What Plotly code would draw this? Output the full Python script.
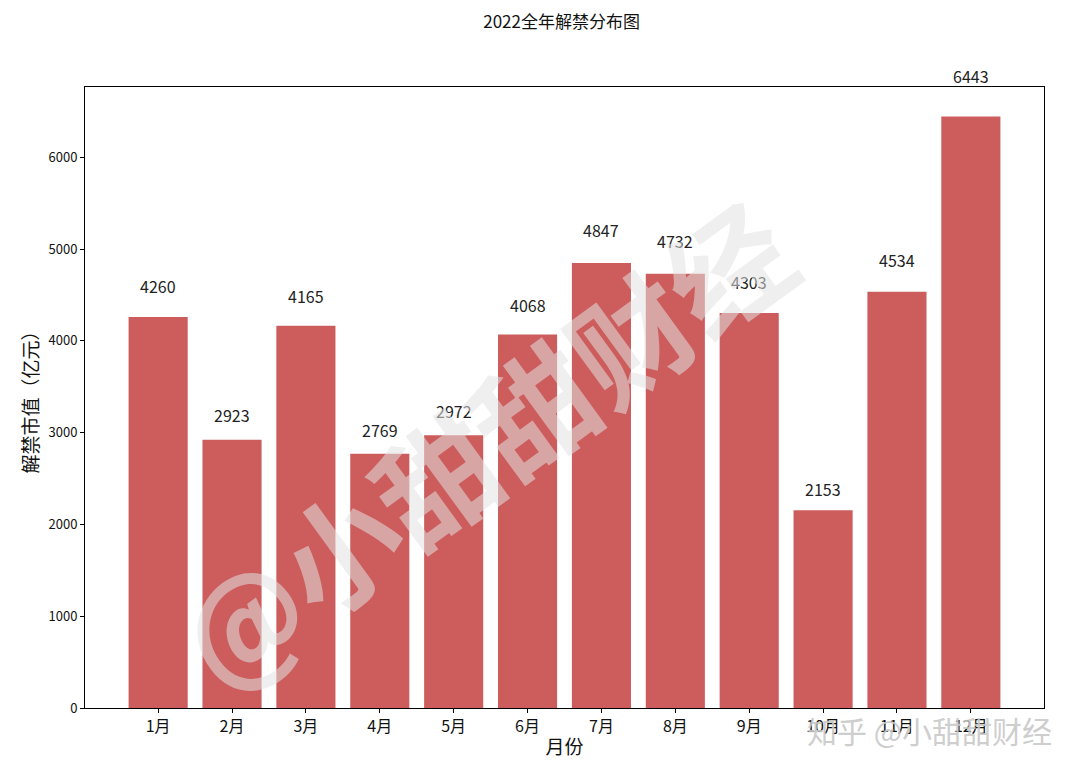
import plotly.graph_objects as go

months = ["1月", "2月", "3月", "4月", "5月", "6月", "7月", "8月", "9月", "10月", "11月", "12月"]
values = [4260, 2923, 4165, 2769, 2972, 4068, 4847, 4732, 4303, 2153, 4534, 6443]
y_ticks = [0, 1000, 2000, 3000, 4000, 5000, 6000]

FONT = "Noto Sans CJK SC"
xs = list(range(len(months)))
y_max = max(values) * 1.05

fig = go.Figure()
fig.add_trace(go.Bar(x=xs, y=values, width=0.8, marker=dict(color="#CD5C5C", line=dict(width=0)),
                     hoverinfo="skip"))

annotations = []
for x, v in zip(xs, values):
    annotations.append(dict(x=x, y=v * 1.05 / y_max, xref="x", yref="paper", text=str(v), showarrow=False,
                            yanchor="bottom", xanchor="center", yshift=-3,
                            font=dict(family=FONT, size=16, color="#222")))
# watermarks
annotations.append(dict(x=0.415, y=0.43, xref="paper", yref="paper", text="<b>@小甜甜财经</b>", showarrow=False,
                        textangle=-36, font=dict(family=FONT, size=120, color="rgba(225,225,225,0.55)")))
annotations.append(dict(x=1.01, y=-0.035, xref="paper", yref="paper", text="知乎 @小甜甜财经", showarrow=False,
                        xanchor="right", yanchor="middle",
                        font=dict(family=FONT, size=30, color="rgba(200,200,200,0.9)")))

fig.update_layout(
    width=1080, height=775,
    margin=dict(l=85, r=36, t=87, b=67),
    paper_bgcolor="white", plot_bgcolor="white",
    title=dict(text="2022全年解禁分布图", x=0.52, xanchor="center", y=0.972, yanchor="middle",
               font=dict(family=FONT, size=17, color="#111")),
    showlegend=False,
    annotations=annotations,
)
fig.update_xaxes(range=[-0.99, 11.99], tickmode="array", tickvals=xs, ticktext=months,
                 showline=True, linecolor="black", linewidth=1, mirror=True, ticks="outside",
                 ticklen=4, tickcolor="black", showgrid=False, zeroline=False,
                 tickfont=dict(family=FONT, size=16, color="#111"),
                 title=dict(text="月份", font=dict(family=FONT, size=19, color="#111"), standoff=4))
fig.update_yaxes(range=[0, y_max], tickmode="array", tickvals=y_ticks,
                 showline=True, linecolor="black", linewidth=1, mirror=True, ticks="outside",
                 ticklen=4, tickcolor="black", showgrid=False, zeroline=False,
                 tickfont=dict(family=FONT, size=13, color="#111"),
                 title=dict(text="解禁市值（亿元）", font=dict(family=FONT, size=19, color="#111"), standoff=4))

fig.write_html("out.html", config={"displayModeBar": False},
               post_script="document.body.style.margin='0px';")
